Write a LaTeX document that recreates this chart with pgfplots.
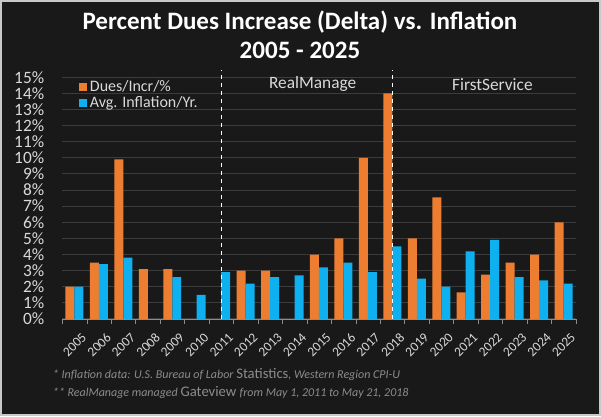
\documentclass[border=0pt]{standalone}
\usepackage{fontspec}
\setmainfont{Carlito}
\usepackage{pgfplots}
\pgfplotsset{compat=1.18}
\definecolor{bg}{HTML}{191919}
\definecolor{frame}{HTML}{C8C8C8}
\definecolor{dues}{HTML}{ED7D31}
\definecolor{infl}{HTML}{0EB0F0}
\definecolor{gridc}{HTML}{3C3C3C}
\definecolor{axisc}{HTML}{8C8C8C}
\definecolor{txt}{HTML}{D9D9D9}
\definecolor{note}{HTML}{8C8C8C}

\begin{document}
\begin{tikzpicture}[x=0.75pt,y=0.75pt]
% page: 601 x 416 px
\fill[bg] (0,0) rectangle (601,416);
\draw[frame,line width=1.5pt] (0.75,0.75) rectangle (600.25,415.25);
\node[white,font=\fontsize{18.8}{22}\selectfont\bfseries] at (300,394) {Percent Dues Increase (Delta) vs. Inflation};
\node[white,font=\fontsize{18.8}{22}\selectfont\bfseries] at (300,366) {2005 - 2025};
\node[note,anchor=west,font=\fontsize{9}{11}\selectfont] at (48,41)
  {\itshape * Inflation data: U.S. Bureau of Labor \upshape\fontsize{11}{13}\selectfont Statistics\itshape\fontsize{9}{11}\selectfont, Western Region CPI-U};
\node[note,anchor=west,font=\fontsize{9}{11}\selectfont] at (48,23)
  {\itshape ** RealManage managed \upshape\fontsize{11}{13}\selectfont Gateview \itshape\fontsize{9}{11}\selectfont from May 1, 2011 to May 21, 2018};
\begin{axis}[
  at={(46.5pt,72.75pt)}, anchor=south west,
  scale only axis, width=385.5pt, height=181.5pt,
  ybar, bar width=6.75pt, ybar=0pt,
  xmin=-0.5, xmax=20.5, ymin=0, ymax=15,
  xtick={0,1,...,20},
  xticklabels={2005,2006,2007,2008,2009,2010,2011,2012,2013,2014,2015,2016,2017,2018,2019,2020,2021,2022,2023,2024,2025},
  minor xtick={-0.5,0.5,...,20.5},
  ytick={0,1,...,15},
  yticklabel={\pgfmathprintnumber{\tick}\%},
  /pgf/number format/assume math mode=true,
  ymajorgrids, major grid style={gridc,line width=0.75pt},
  axis x line*=bottom, axis y line*=left,
  x axis line style={draw=axisc,-},
  y axis line style={draw=none},
  major tick length=0pt,
  minor tick length=4pt,
  tick align=outside,
  minor tick style={axisc},
  xticklabel style={txt,font=\fontsize{10}{11}\selectfont,rotate=45,anchor=north east,xshift=0pt,yshift=-7pt},
  yticklabel style={txt,font=\fontsize{13}{14}\selectfont,xshift=-10pt},
  clip=false,
  legend style={at={(0.025,1.01)},anchor=north west,draw=none,fill=none,text=txt,
    font=\fontsize{12}{14}\selectfont,row sep=-1.5pt,
    /tikz/every even column/.append style={column sep=2pt}},
  legend cell align=left,
  legend image code/.code={\fill[#1] (0pt,-3pt) rectangle (6pt,3pt);},
]
\addplot[fill=dues,draw=none] coordinates {
 (0,2.0) (1,3.5) (2,9.9) (3,3.1) (4,3.1) (7,3.0) (8,3.0)
 (10,4.0) (11,5.0) (12,10.0) (13,14.0) (14,5.0) (15,7.55) (16,1.65)
 (17,2.75) (18,3.5) (19,4.0) (20,6.0)};
\addplot[fill=infl,draw=none] coordinates {
 (0,2.0) (1,3.4) (2,3.8) (4,2.6) (5,1.5) (6,2.9) (7,2.2) (8,2.6)
 (9,2.7) (10,3.2) (11,3.5) (12,2.9) (13,4.5) (14,2.5) (15,2.0) (16,4.2)
 (17,4.9) (18,2.6) (19,2.4) (20,2.2)};
\legend{Dues/Incr/\%,Avg. Inflation/Yr.}
\draw[white,dashed,line width=0.9pt] (axis cs:6,0) -- (axis cs:6,15.45);
\draw[white,dashed,line width=0.9pt] (axis cs:13,0) -- (axis cs:13,15.45);
\node[txt,font=\fontsize{13}{15}\selectfont] at (axis cs:9.74,14.57) {RealManage};
\node[txt,font=\fontsize{13}{15}\selectfont] at (axis cs:17.09,14.57) {FirstService};
\end{axis}
\end{tikzpicture}
\end{document}
